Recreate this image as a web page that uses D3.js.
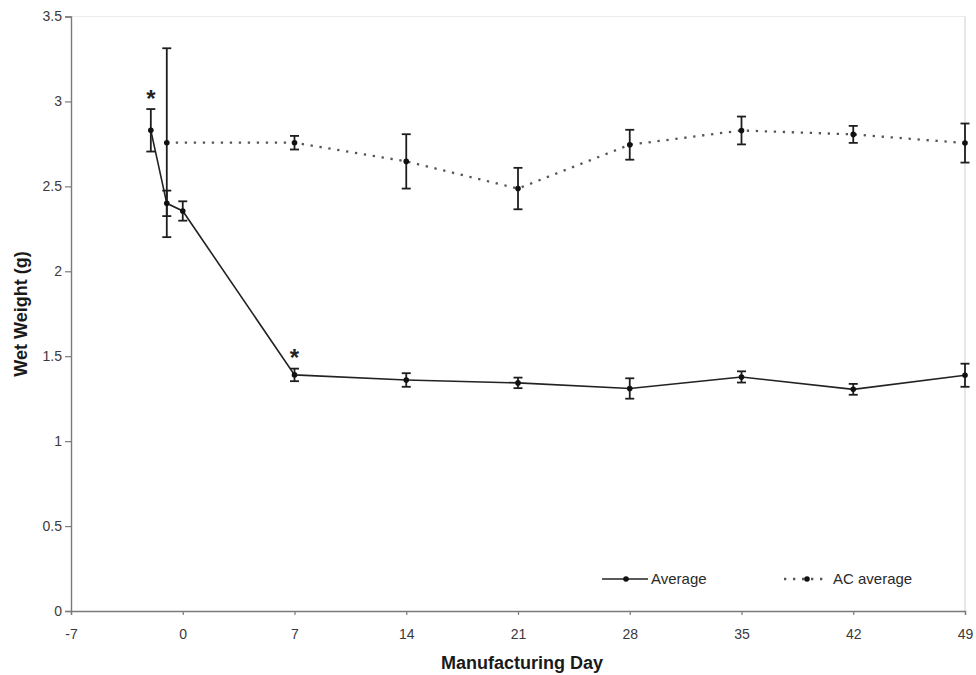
<!DOCTYPE html>
<html>
<head>
<meta charset="utf-8">
<script src="https://cdn.jsdelivr.net/npm/d3@7/dist/d3.min.js"></script>
<style>
  html, body { margin: 0; padding: 0; background: #fff; }
  svg { display: block; font-family: Arial, "Liberation Sans", sans-serif; }
</style>
</head>
<body>
<svg id="chart" width="976" height="675"></svg>
<script>
// Wet weight by manufacturing day
const avgDays   = [-2, -1, 0, 7, 14, 21, 28, 35, 42, 49];
const avgValues = [2.83, 2.40, 2.355, 1.39, 1.36, 1.343, 1.31, 1.378, 1.305, 1.388];
const avgErrors = [0.125, 0.075, 0.057, 0.037, 0.04, 0.031, 0.06, 0.033, 0.032, 0.068];

const acDays   = [-1, 7, 14, 21, 28, 35, 42, 49];
const acValues = [2.757, 2.757, 2.647, 2.487, 2.745, 2.829, 2.806, 2.755];
const acErrors = [0.556, 0.04, 0.16, 0.122, 0.088, 0.082, 0.05, 0.115];

const xTicks = [-7, 0, 7, 14, 21, 28, 35, 42, 49];
const yTicks = [0, 0.5, 1, 1.5, 2, 2.5, 3, 3.5];

// significance markers: [day, value]
const starMarks = [[-2, 2.955], [7, 1.428]];

const seriesNames = ["Average", "AC average"];
const xTitle = "Manufacturing Day";
const yTitle = "Wet Weight (g)";

const svg = d3.select("#chart");
const margin = { left: 71, top: 16.5, right: 11, bottom: 64 };
const W = 976 - margin.left - margin.right;
const H = 675 - margin.top - margin.bottom;

const x = d3.scaleLinear().domain([-7, 49]).range([0, W]);
const y = d3.scaleLinear().domain([0, 3.5]).range([H, 0]);

const g = svg.append("g").attr("transform", `translate(${margin.left},${margin.top})`);

// light frame on top and right
g.append("line").attr("x1", 0).attr("x2", W).attr("y1", 0).attr("y2", 0)
  .attr("stroke", "#ececec").attr("stroke-width", 1);
g.append("line").attr("x1", W).attr("x2", W).attr("y1", 0).attr("y2", H)
  .attr("stroke", "#d8d8d8").attr("stroke-width", 1.2);

// axes
const xAxis = g.append("g").attr("transform", `translate(0,${H})`)
  .call(d3.axisBottom(x).tickValues(xTicks).tickSize(4).tickPadding(14).tickFormat(d => String(d)));
const yAxis = g.append("g")
  .call(d3.axisLeft(y).tickValues(yTicks).tickSize(6).tickPadding(3).tickFormat(d => String(d)));

[xAxis, yAxis].forEach(a => {
  a.select(".domain").attr("stroke", "#7a7a7a").attr("stroke-width", 1.4);
  a.selectAll(".tick line").attr("stroke", "#7a7a7a").attr("stroke-width", 1.2);
  a.selectAll(".tick text").attr("fill", "#3a3a3a").style("font-size", "14px")
    .style("font-family", "Arial, 'Liberation Sans', sans-serif");
});

// axis titles
svg.append("text")
  .attr("x", 522).attr("y", 669)
  .attr("text-anchor", "middle")
  .style("font-size", "18px").style("font-weight", "bold").attr("fill", "#1a1a1a")
  .text(xTitle);
svg.append("text")
  .attr("transform", "translate(27,314) rotate(-90)")
  .attr("text-anchor", "middle")
  .style("font-size", "18px").style("font-weight", "bold").attr("fill", "#1a1a1a")
  .text(yTitle);

const lineGen = d3.line().x(d => x(d[0])).y(d => y(d[1]));

const avgData = avgDays.map((d, i) => [d, avgValues[i], avgErrors[i]]);
const acData = acDays.map((d, i) => [d, acValues[i], acErrors[i]]);

// dotted AC average line
g.append("path").datum(acData).attr("d", lineGen)
  .attr("fill", "none").attr("stroke", "#555").attr("stroke-width", 2.3)
  .attr("stroke-dasharray", "2.3,6.7");

// solid average line
g.append("path").datum(avgData).attr("d", lineGen)
  .attr("fill", "none").attr("stroke", "#222").attr("stroke-width", 1.6);

// error bars
function drawErrors(data) {
  const eb = g.append("g").attr("stroke", "#1e1e1e").attr("stroke-width", 1.8);
  data.forEach(d => {
    const cx = x(d[0]), y0 = y(d[1] - d[2]), y1 = y(d[1] + d[2]);
    eb.append("line").attr("x1", cx).attr("x2", cx).attr("y1", y0).attr("y2", y1);
    eb.append("line").attr("x1", cx - 4.5).attr("x2", cx + 4.5).attr("y1", y0).attr("y2", y0);
    eb.append("line").attr("x1", cx - 4.5).attr("x2", cx + 4.5).attr("y1", y1).attr("y2", y1);
  });
}
drawErrors(acData);
drawErrors(avgData);

// point markers
[avgData, acData].forEach(data => {
  g.selectAll(null).data(data).enter().append("circle")
    .attr("cx", d => x(d[0])).attr("cy", d => y(d[1])).attr("r", 2.8)
    .attr("fill", "#111");
});

// significance asterisks
g.selectAll(null).data(starMarks).enter().append("text")
  .attr("x", d => x(d[0])).attr("y", d => y(d[1]) - 2)
  .attr("text-anchor", "middle")
  .style("font-size", "24px").style("font-weight", "bold").attr("fill", "#222")
  .text("*");

// legend
const lg = svg.append("g").attr("transform", "translate(0,579)");
lg.append("line").attr("x1", 602).attr("x2", 648).attr("y1", 0).attr("y2", 0)
  .attr("stroke", "#222").attr("stroke-width", 1.6);
lg.append("circle").attr("cx", 626).attr("cy", 0).attr("r", 2.8).attr("fill", "#111");
lg.append("text").attr("x", 651).attr("y", 5).style("font-size", "15px").attr("fill", "#2a2a2a")
  .text(seriesNames[0]);
lg.append("line").attr("x1", 784).attr("x2", 828).attr("y1", 0).attr("y2", 0)
  .attr("stroke", "#555").attr("stroke-width", 2.3).attr("stroke-dasharray", "2.3,6.7");
lg.append("circle").attr("cx", 807).attr("cy", 0).attr("r", 2.8).attr("fill", "#111");
lg.append("text").attr("x", 833).attr("y", 5).style("font-size", "15px").attr("fill", "#2a2a2a")
  .text(seriesNames[1]);
</script>
</body>
</html>
